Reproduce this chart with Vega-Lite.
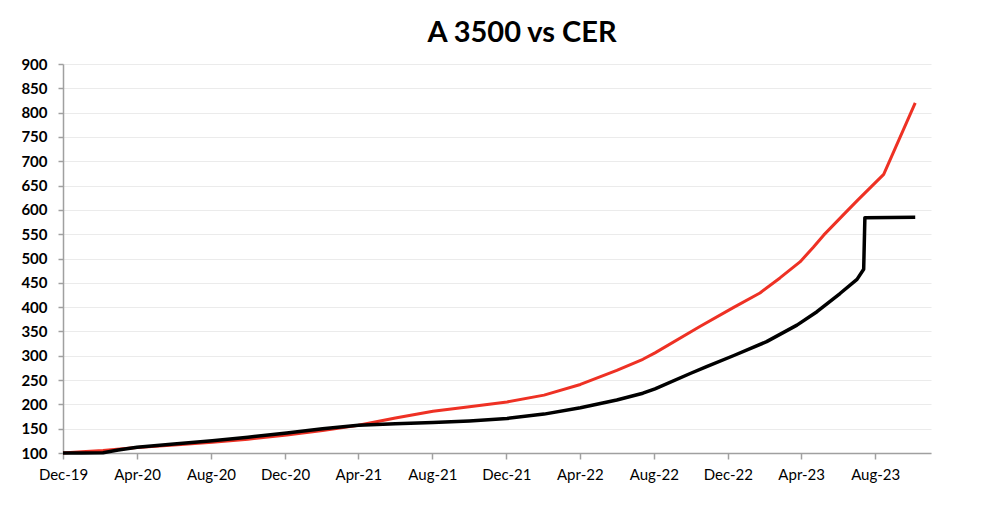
{
  "$schema": "https://vega.github.io/schema/vega-lite/v6.json",
  "autosize": {"type": "none"},
  "width": 868,
  "height": 389,
  "padding": {"left": 63, "top": 64, "right": 50, "bottom": 59},
  "background": "white",
  "title": {"text": "A 3500 vs CER", "font": "Lato", "fontSize": 29, "fontWeight": "bold", "color": "#000000", "anchor": "middle", "dx": 25, "offset": 9},
  "config": {"view": {"stroke": null}},
  "data": {"values": [
    {"serie": "A 3500", "fecha": "2019-12-01T00:00:00", "valor": 100},
    {"serie": "A 3500", "fecha": "2020-01-01T00:00:00", "valor": 100.2},
    {"serie": "A 3500", "fecha": "2020-02-05T00:00:00", "valor": 100.7},
    {"serie": "A 3500", "fecha": "2020-03-01T00:00:00", "valor": 106},
    {"serie": "A 3500", "fecha": "2020-04-01T00:00:00", "valor": 111.7},
    {"serie": "A 3500", "fecha": "2020-06-01T00:00:00", "valor": 118.5},
    {"serie": "A 3500", "fecha": "2020-08-03T00:00:00", "valor": 125},
    {"serie": "A 3500", "fecha": "2020-10-01T00:00:00", "valor": 132.5},
    {"serie": "A 3500", "fecha": "2020-12-04T00:00:00", "valor": 141},
    {"serie": "A 3500", "fecha": "2021-02-01T00:00:00", "valor": 150},
    {"serie": "A 3500", "fecha": "2021-04-01T00:00:00", "valor": 157},
    {"serie": "A 3500", "fecha": "2021-06-01T00:00:00", "valor": 160},
    {"serie": "A 3500", "fecha": "2021-08-02T00:00:00", "valor": 162.5},
    {"serie": "A 3500", "fecha": "2021-10-01T00:00:00", "valor": 166},
    {"serie": "A 3500", "fecha": "2021-12-02T00:00:00", "valor": 171},
    {"serie": "A 3500", "fecha": "2022-02-01T00:00:00", "valor": 180},
    {"serie": "A 3500", "fecha": "2022-04-02T00:00:00", "valor": 193},
    {"serie": "A 3500", "fecha": "2022-06-01T00:00:00", "valor": 209},
    {"serie": "A 3500", "fecha": "2022-07-14T00:00:00", "valor": 223},
    {"serie": "A 3500", "fecha": "2022-08-03T00:00:00", "valor": 232},
    {"serie": "A 3500", "fecha": "2022-10-01T00:00:00", "valor": 264},
    {"serie": "A 3500", "fecha": "2022-10-27T00:00:00", "valor": 277.5},
    {"serie": "A 3500", "fecha": "2022-12-10T00:00:00", "valor": 300},
    {"serie": "A 3500", "fecha": "2023-02-03T00:00:00", "valor": 329},
    {"serie": "A 3500", "fecha": "2023-03-25T00:00:00", "valor": 363},
    {"serie": "A 3500", "fecha": "2023-04-27T00:00:00", "valor": 390.6},
    {"serie": "A 3500", "fecha": "2023-06-04T00:00:00", "valor": 428},
    {"serie": "A 3500", "fecha": "2023-07-02T00:00:00", "valor": 457},
    {"serie": "A 3500", "fecha": "2023-07-13T00:00:00", "valor": 478},
    {"serie": "A 3500", "fecha": "2023-07-15T00:00:00", "valor": 584},
    {"serie": "A 3500", "fecha": "2023-10-06T00:00:00", "valor": 585},
    {"serie": "CER", "fecha": "2019-12-01T00:00:00", "valor": 100},
    {"serie": "CER", "fecha": "2020-01-01T00:00:00", "valor": 102.5},
    {"serie": "CER", "fecha": "2020-02-05T00:00:00", "valor": 105},
    {"serie": "CER", "fecha": "2020-04-01T00:00:00", "valor": 111.5},
    {"serie": "CER", "fecha": "2020-06-01T00:00:00", "valor": 116.5},
    {"serie": "CER", "fecha": "2020-08-03T00:00:00", "valor": 122},
    {"serie": "CER", "fecha": "2020-10-01T00:00:00", "valor": 128.5},
    {"serie": "CER", "fecha": "2020-12-04T00:00:00", "valor": 137},
    {"serie": "CER", "fecha": "2021-02-01T00:00:00", "valor": 146},
    {"serie": "CER", "fecha": "2021-04-01T00:00:00", "valor": 157},
    {"serie": "CER", "fecha": "2021-06-01T00:00:00", "valor": 172},
    {"serie": "CER", "fecha": "2021-08-02T00:00:00", "valor": 186},
    {"serie": "CER", "fecha": "2021-10-01T00:00:00", "valor": 195},
    {"serie": "CER", "fecha": "2021-12-02T00:00:00", "valor": 205},
    {"serie": "CER", "fecha": "2022-02-01T00:00:00", "valor": 219},
    {"serie": "CER", "fecha": "2022-04-02T00:00:00", "valor": 241},
    {"serie": "CER", "fecha": "2022-06-01T00:00:00", "valor": 270},
    {"serie": "CER", "fecha": "2022-07-14T00:00:00", "valor": 292.7},
    {"serie": "CER", "fecha": "2022-08-03T00:00:00", "valor": 306},
    {"serie": "CER", "fecha": "2022-10-16T00:00:00", "valor": 360},
    {"serie": "CER", "fecha": "2022-12-10T00:00:00", "valor": 399},
    {"serie": "CER", "fecha": "2023-01-23T00:00:00", "valor": 429},
    {"serie": "CER", "fecha": "2023-02-25T00:00:00", "valor": 460},
    {"serie": "CER", "fecha": "2023-03-30T00:00:00", "valor": 493},
    {"serie": "CER", "fecha": "2023-04-21T00:00:00", "valor": 523},
    {"serie": "CER", "fecha": "2023-05-08T00:00:00", "valor": 548},
    {"serie": "CER", "fecha": "2023-06-15T00:00:00", "valor": 597},
    {"serie": "CER", "fecha": "2023-07-04T00:00:00", "valor": 621},
    {"serie": "CER", "fecha": "2023-08-15T00:00:00", "valor": 673},
    {"serie": "CER", "fecha": "2023-10-06T00:00:00", "valor": 820}
  ]},
  "encoding": {
    "x": {
      "field": "fecha", "type": "temporal",
      "scale": {"domain": [{"year": 2019, "month": 12, "date": 1}, {"year": 2023, "month": 11, "date": 1}]},
      "axis": {
        "title": null, "grid": false, "format": "%b-%y",
        "values": [
          {"year": 2019, "month": 12, "date": 1},
          {"year": 2020, "month": 4, "date": 1},
          {"year": 2020, "month": 8, "date": 1},
          {"year": 2020, "month": 12, "date": 1},
          {"year": 2021, "month": 4, "date": 1},
          {"year": 2021, "month": 8, "date": 1},
          {"year": 2021, "month": 12, "date": 1},
          {"year": 2022, "month": 4, "date": 1},
          {"year": 2022, "month": 8, "date": 1},
          {"year": 2022, "month": 12, "date": 1},
          {"year": 2023, "month": 4, "date": 1},
          {"year": 2023, "month": 8, "date": 1}
        ],
        "domainColor": "#a0a0a0", "domainWidth": 1.5, "tickColor": "#a0a0a0", "tickWidth": 1.5, "tickSize": 6,
        "labelFont": "Lato", "labelFontSize": 15, "labelColor": "#000000", "labelPadding": 8,
        "labelFlush": false, "labelOverlap": false
      }
    },
    "y": {
      "field": "valor", "type": "quantitative",
      "scale": {"domain": [100, 900], "nice": false, "zero": false},
      "axis": {
        "title": null, "grid": true, "gridColor": "#ebebeb", "gridWidth": 1,
        "values": [100, 150, 200, 250, 300, 350, 400, 450, 500, 550, 600, 650, 700, 750, 800, 850, 900],
        "domainColor": "#a0a0a0", "domainWidth": 1.5, "tickColor": "#a0a0a0", "tickWidth": 1.5, "tickSize": 5,
        "labelFont": "Lato", "labelFontSize": 15, "labelFontWeight": "bold", "labelColor": "#000000", "labelPadding": 11
      }
    }
  },
  "layer": [
    {"transform": [{"filter": "datum.serie === 'CER'"}], "mark": {"type": "line", "color": "#ee3124", "strokeWidth": 3, "strokeJoin": "round"}},
    {"transform": [{"filter": "datum.serie === 'A 3500'"}], "mark": {"type": "line", "color": "#000000", "strokeWidth": 3.5, "strokeJoin": "round"}}
  ]
}
